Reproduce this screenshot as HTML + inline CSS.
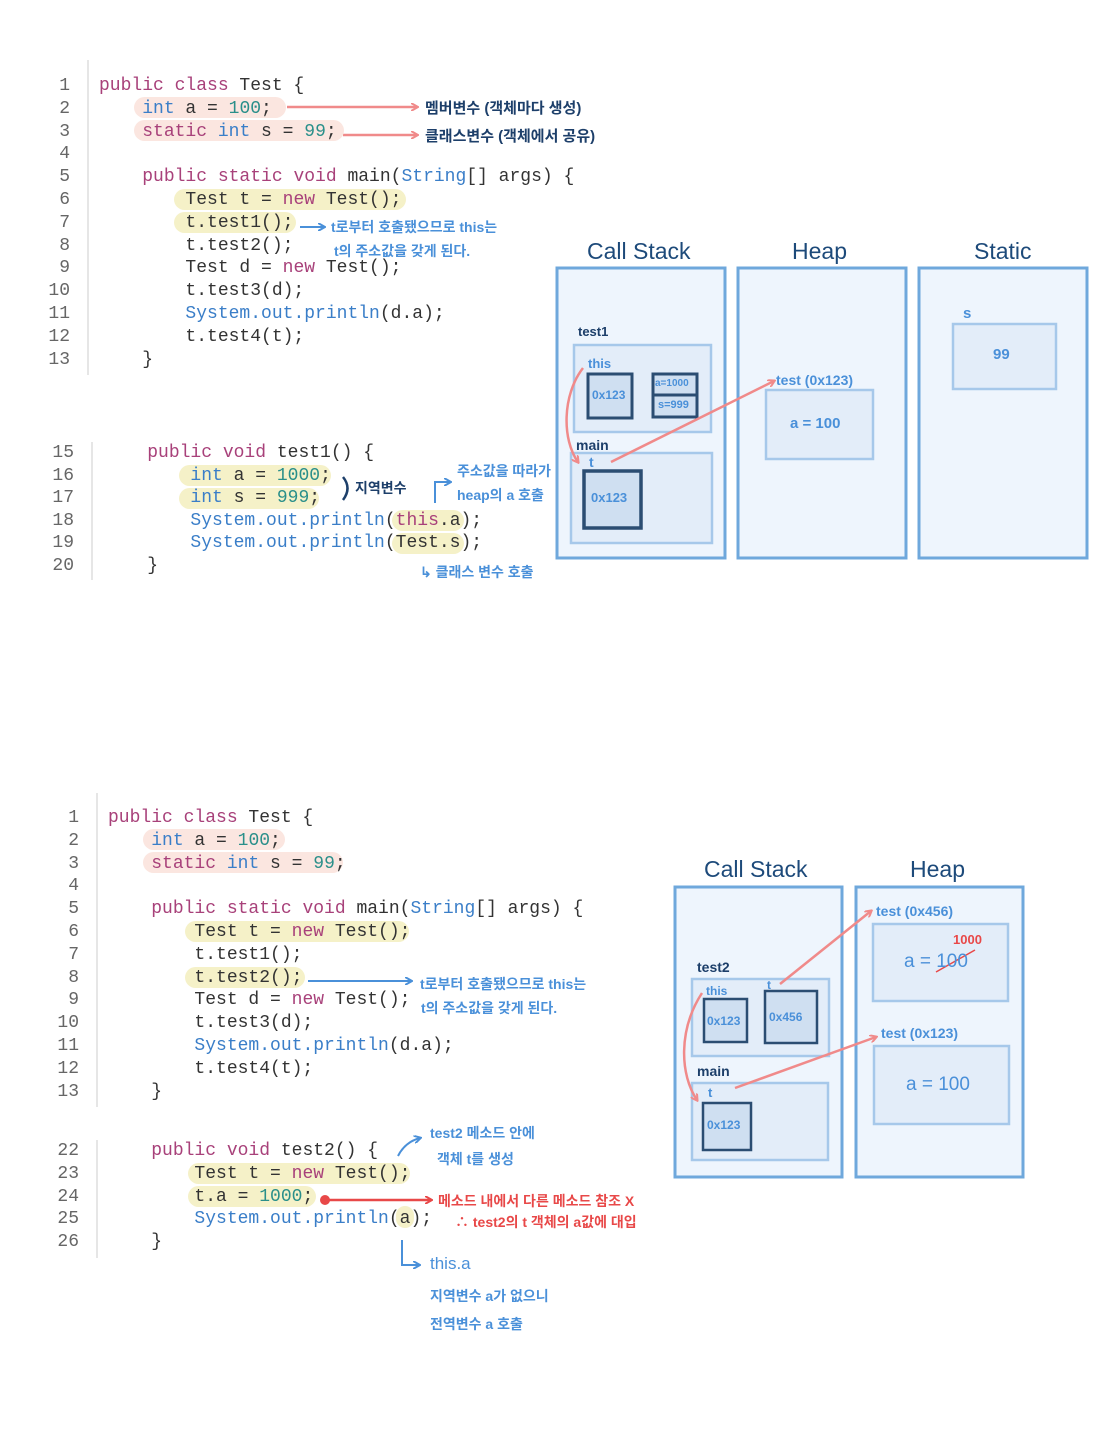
<!DOCTYPE html>
<html><head><meta charset="utf-8">
<style>
html,body{margin:0;padding:0;background:#fff;}
#w{position:relative;width:1116px;height:1440px;overflow:hidden;background:#fff;}
.c{position:absolute;font-family:"Liberation Mono",monospace;font-size:18px;line-height:22px;color:#333;white-space:pre;}
.ln{position:absolute;font-family:"Liberation Mono",monospace;font-size:18px;line-height:22.8px;color:#666;width:32px;text-align:right;}
.k{color:#a8417a}.t{color:#3a7ec8}.n{color:#2a8f8a}
.h{position:absolute;border-radius:11px;}
.hp{background:#fbe6e0}.hy{background:#f5f1c8}
.a{position:absolute;font-family:"Liberation Sans","Noto Sans CJK KR",sans-serif;white-space:nowrap;font-weight:bold;}
.b{color:#4a90d9;font-size:14px}
.d{color:#1d3f6a;font-size:15px}
.r{color:#e84848;font-size:14px}
.ttl{color:#1d4a7a;font-size:23px;font-weight:normal;}
svg{position:absolute;left:0;top:0}
</style></head><body><div id="w">

<svg width="1116" height="1440">
<defs>
<marker id="mp" markerWidth="8" markerHeight="8" refX="6" refY="4" orient="auto" markerUnits="userSpaceOnUse"><path d="M0,0 L7,4 L0,8" fill="none" stroke="#f08a8a" stroke-width="2"/></marker>
<marker id="mb" markerWidth="8" markerHeight="8" refX="6" refY="4" orient="auto" markerUnits="userSpaceOnUse"><path d="M0,0 L7,4 L0,8" fill="none" stroke="#4a90d9" stroke-width="2"/></marker>
<marker id="mr" markerWidth="8" markerHeight="8" refX="6" refY="4" orient="auto" markerUnits="userSpaceOnUse"><path d="M0,0 L7,4 L0,8" fill="none" stroke="#e84848" stroke-width="2"/></marker>
</defs>
<g stroke="#ddd" stroke-width="1.5">
<line x1="88" y1="60" x2="88" y2="375"/><line x1="92" y1="442" x2="92" y2="580"/>
<line x1="97" y1="793" x2="97" y2="1107"/><line x1="97" y1="1140" x2="97" y2="1258"/>
</g>
<g fill="#eef5fd" stroke="#6fa8dc" stroke-width="3">
<rect x="557" y="268" width="168" height="290"/><rect x="738" y="268" width="168" height="290"/><rect x="919" y="268" width="168" height="290"/>
</g>
<g fill="#e3edf9" stroke="#a6c8ea" stroke-width="2.5">
<rect x="574" y="345" width="137" height="87"/><rect x="571" y="453" width="141" height="90"/>
<rect x="766" y="390" width="107" height="69"/><rect x="953" y="324" width="103" height="65"/>
</g>
<g fill="#cfdff1" stroke="#2b4d72" stroke-width="3">
<rect x="588" y="374" width="44" height="44"/><rect x="653" y="374" width="44" height="43"/>
<line x1="653" y1="395" x2="697" y2="395"/>
<rect x="584" y="471" width="57" height="57" stroke-width="3.5"/>
</g>
<path d="M583,368 C562,395 562,440 578,462" fill="none" stroke="#f08a8a" stroke-width="2.5" marker-end="url(#mp)"/>
<line x1="611" y1="462" x2="774" y2="381" stroke="#f08a8a" stroke-width="2.5" marker-end="url(#mp)"/>
<line x1="287" y1="107" x2="417" y2="107" stroke="#f08a8a" stroke-width="2.5" marker-end="url(#mp)"/>
<line x1="343" y1="135" x2="417" y2="135" stroke="#f08a8a" stroke-width="2.5" marker-end="url(#mp)"/>
<line x1="300" y1="227" x2="324" y2="227" stroke="#4a90d9" stroke-width="2" marker-end="url(#mb)"/>
<path d="M435,503 L435,482 L450,482" fill="none" stroke="#4a90d9" stroke-width="2" marker-end="url(#mb)"/>
<path d="M343,477 Q352,488 343,500" fill="none" stroke="#1d3f6a" stroke-width="2.5"/>
<g fill="#eef5fd" stroke="#6fa8dc" stroke-width="3">
<rect x="675" y="887" width="167" height="290"/><rect x="856" y="887" width="167" height="290"/>
</g>
<g fill="#e3edf9" stroke="#a6c8ea" stroke-width="2.5">
<rect x="692" y="979" width="137" height="77"/><rect x="692" y="1083" width="136" height="77"/>
<rect x="873" y="924" width="135" height="77"/><rect x="874" y="1046" width="135" height="78"/>
</g>
<g fill="#cfdff1" stroke="#2b4d72" stroke-width="2.5">
<rect x="704" y="999" width="43" height="43"/><rect x="765" y="991" width="52" height="52"/>
<rect x="703" y="1103" width="48" height="47"/>
</g>
<path d="M702,993 C678,1030 680,1075 697,1100" fill="none" stroke="#f08a8a" stroke-width="2.5" marker-end="url(#mp)"/>
<line x1="780" y1="984" x2="871" y2="911" stroke="#f08a8a" stroke-width="2.5" marker-end="url(#mp)"/>
<line x1="735" y1="1088" x2="876" y2="1037" stroke="#f08a8a" stroke-width="2.5" marker-end="url(#mp)"/>
<line x1="936" y1="972" x2="975" y2="950" stroke="#e84848" stroke-width="1.5"/>
<line x1="308" y1="981" x2="411" y2="981" stroke="#4a90d9" stroke-width="2" marker-end="url(#mb)"/>
<circle cx="325" cy="1200" r="5" fill="#e84848"/>
<line x1="325" y1="1200" x2="431" y2="1200" stroke="#e84848" stroke-width="2.5" marker-end="url(#mr)"/>
<path d="M398,1156 Q405,1142 420,1138" fill="none" stroke="#4a90d9" stroke-width="2" marker-end="url(#mb)"/>
<path d="M402,1240 L402,1265 L419,1265" fill="none" stroke="#4a90d9" stroke-width="2" marker-end="url(#mb)"/>
</svg>

<div class="h hp" style="left:134px;top:97px;width:152px;height:21px"></div>
<div class="h hp" style="left:134px;top:120px;width:210px;height:21px"></div>
<div class="h hy" style="left:174px;top:189px;width:232px;height:21px"></div>
<div class="h hy" style="left:174px;top:212px;width:122px;height:21px"></div>
<div class="h hy" style="left:179px;top:465px;width:152px;height:21px"></div>
<div class="h hy" style="left:179px;top:488px;width:140px;height:21px"></div>
<div class="h hy" style="left:392px;top:510px;width:72px;height:21px"></div>
<div class="h hy" style="left:392px;top:533px;width:72px;height:21px"></div>
<div class="h hp" style="left:143px;top:829px;width:142px;height:21px"></div>
<div class="h hp" style="left:143px;top:852px;width:200px;height:21px"></div>
<div class="h hy" style="left:185px;top:921px;width:224px;height:21px"></div>
<div class="h hy" style="left:185px;top:967px;width:120px;height:21px"></div>
<div class="h hy" style="left:188px;top:1163px;width:222px;height:21px"></div>
<div class="h hy" style="left:188px;top:1186px;width:128px;height:21px"></div>
<div class="h hy" style="left:396px;top:1206px;width:18px;height:22px"></div>

<div class="ln" style="left:38px;top:75px">1<br>2<br>3<br>4<br>5<br>6<br>7<br>8<br>9<br>10<br>11<br>12<br>13</div>
<div class="c" style="left:99px;top:75px;line-height:22.8px"><span class="k">public class</span> Test {
    <span class="t">int</span> a = <span class="n">100</span>;
    <span class="k">static</span> <span class="t">int</span> s = <span class="n">99</span>;

    <span class="k">public static void</span> main(<span class="t">String</span>[] args) {
        Test t = <span class="k">new</span> Test();
        t.test1();
        t.test2();
        Test d = <span class="k">new</span> Test();
        t.test3(d);
        <span class="t">System.out.println</span>(d.a);
        t.test4(t);
    }</div>
<div class="ln" style="left:42px;top:442px;line-height:22.6px">15<br>16<br>17<br>18<br>19<br>20</div>
<div class="c" style="left:104px;top:442px;line-height:22.6px">    <span class="k">public void</span> test1() {
        <span class="t">int</span> a = <span class="n">1000</span>;
        <span class="t">int</span> s = <span class="n">999</span>;
        <span class="t">System.out.println</span>(<span class="k">this</span>.a);
        <span class="t">System.out.println</span>(Test.s);
    }</div>

<div class="ln" style="left:47px;top:807px">1<br>2<br>3<br>4<br>5<br>6<br>7<br>8<br>9<br>10<br>11<br>12<br>13</div>
<div class="c" style="left:108px;top:807px;line-height:22.8px"><span class="k">public class</span> Test {
    <span class="t">int</span> a = <span class="n">100</span>;
    <span class="k">static</span> <span class="t">int</span> s = <span class="n">99</span>;

    <span class="k">public static void</span> main(<span class="t">String</span>[] args) {
        Test t = <span class="k">new</span> Test();
        t.test1();
        t.test2();
        Test d = <span class="k">new</span> Test();
        t.test3(d);
        <span class="t">System.out.println</span>(d.a);
        t.test4(t);
    }</div>
<div class="ln" style="left:47px;top:1140px;line-height:22.8px">22<br>23<br>24<br>25<br>26</div>
<div class="c" style="left:108px;top:1140px;line-height:22.8px">    <span class="k">public void</span> test2() {
        Test t = <span class="k">new</span> Test();
        t.a = <span class="n">1000</span>;
        <span class="t">System.out.println</span>(a);
    }</div>

<div class="a d" style="left:425px;top:97px">멤버변수 (객체마다 생성)</div>
<div class="a d" style="left:425px;top:125px">클래스변수 (객체에서 공유)</div>
<div class="a b" style="left:331px;top:217px">t로부터 호출됐으므로 this는</div>
<div class="a b" style="left:334px;top:241px">t의 주소값을 갖게 된다.</div>
<div class="a d" style="left:355px;top:478px;font-size:14px">지역변수</div>
<div class="a b" style="left:457px;top:461px">주소값을 따라가</div>
<div class="a b" style="left:457px;top:485px">heap의 a 호출</div>
<div class="a b" style="left:420px;top:562px">↳ 클래스 변수 호출</div>

<div class="a ttl" style="left:587px;top:238px">Call Stack</div>
<div class="a ttl" style="left:792px;top:238px">Heap</div>
<div class="a ttl" style="left:974px;top:238px">Static</div>
<div class="a d" style="left:578px;top:324px;font-size:13px">test1</div>
<div class="a b" style="left:588px;top:356px;font-size:13px">this</div>
<div class="a b" style="left:592px;top:388px;font-size:12px">0x123</div>
<div class="a b" style="left:655px;top:378px;font-size:10px">a=1000</div>
<div class="a b" style="left:658px;top:399px;font-size:11px">s=999</div>
<div class="a d" style="left:576px;top:437px;font-size:14px">main</div>
<div class="a b" style="left:589px;top:454px;font-size:14px">t</div>
<div class="a b" style="left:591px;top:490px;font-size:13px">0x123</div>
<div class="a b" style="left:776px;top:372px;font-size:14px">test (0x123)</div>
<div class="a b" style="left:790px;top:415px;font-size:15px">a = 100</div>
<div class="a b" style="left:963px;top:305px;font-size:15px">s</div>
<div class="a b" style="left:993px;top:346px;font-size:15px">99</div>

<div class="a b" style="left:420px;top:974px">t로부터 호출됐으므로 this는</div>
<div class="a b" style="left:421px;top:998px">t의 주소값을 갖게 된다.</div>
<div class="a b" style="left:430px;top:1123px">test2 메소드 안에</div>
<div class="a b" style="left:437px;top:1149px">객체 t를 생성</div>
<div class="a r" style="left:438px;top:1191px">메소드 내에서 다른 메소드 참조 X</div>
<div class="a r" style="left:455px;top:1212px">∴ test2의 t 객체의 a값에 대입</div>
<div class="a b" style="left:430px;top:1254px;font-size:17px;font-weight:normal">this.a</div>
<div class="a b" style="left:430px;top:1286px">지역변수 a가 없으니</div>
<div class="a b" style="left:430px;top:1314px">전역변수 a 호출</div>

<div class="a ttl" style="left:704px;top:856px">Call Stack</div>
<div class="a ttl" style="left:910px;top:856px">Heap</div>
<div class="a d" style="left:697px;top:959px;font-size:14px">test2</div>
<div class="a b" style="left:706px;top:984px;font-size:12px">this</div>
<div class="a b" style="left:767px;top:978px;font-size:12px">t</div>
<div class="a b" style="left:707px;top:1014px;font-size:12px">0x123</div>
<div class="a b" style="left:769px;top:1010px;font-size:12px">0x456</div>
<div class="a d" style="left:697px;top:1063px;font-size:14px">main</div>
<div class="a b" style="left:708px;top:1085px;font-size:13px">t</div>
<div class="a b" style="left:707px;top:1118px;font-size:12px">0x123</div>
<div class="a b" style="left:876px;top:903px;font-size:14px">test (0x456)</div>
<div class="a r" style="left:953px;top:932px;font-size:13px">1000</div>
<div class="a b" style="left:904px;top:951px;font-size:19px;font-weight:normal">a = 100</div>
<div class="a b" style="left:881px;top:1025px;font-size:14px">test (0x123)</div>
<div class="a b" style="left:906px;top:1074px;font-size:19px;font-weight:normal">a = 100</div>

</div></body></html>
